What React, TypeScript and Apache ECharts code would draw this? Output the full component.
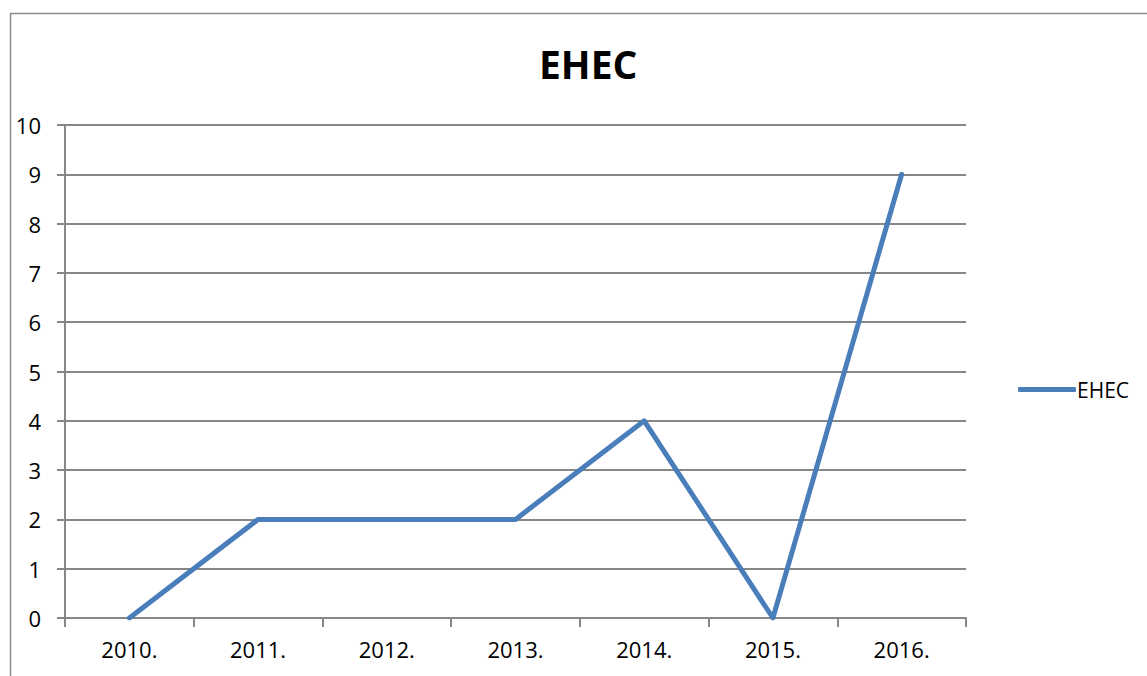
import React, { useEffect, useRef } from "react";
import * as echarts from "echarts";

const categories = ["2010.", "2011.", "2012.", "2013.", "2014.", "2015.", "2016."];
const seriesName = "EHEC";
const values = [0, 2, 2, 2, 4, 0, 9];
const titleText = "EHEC";

export default function App() {
  const ref = useRef<HTMLDivElement>(null);
  useEffect(() => {
    document.body.style.margin = "0";
    const chart = echarts.init(ref.current!, undefined, { renderer: "svg" });
    const font = "Open Sans";
    chart.setOption({
      animation: false,
      backgroundColor: "#ffffff",
      title: {
        text: titleText,
        left: 534,
        top: 39,
        textStyle: { fontSize: 39, fontWeight: "bold", color: "#000", fontFamily: font },
      },
      graphic: [
        {
          type: "rect",
          shape: { x: 10.5, y: 13.5, width: 1300, height: 800 },
          style: { fill: "none", stroke: "#8c8c8c", lineWidth: 1.5 },
          silent: true,
        },
      ],
      legend: {
        data: [seriesName],
        orient: "vertical",
        left: 1013,
        top: 374,
        itemWidth: 58,
        itemHeight: 5,
        itemGap: 4,
        icon: "roundRect",
        textStyle: { fontSize: 21, color: "#000", fontFamily: font, padding: [0, 0, 0, -4] },
      },
      grid: { left: 65, right: 181, top: 125, bottom: 58, containLabel: false },
      xAxis: {
        type: "category",
        data: categories,
        boundaryGap: true,
        axisLine: { lineStyle: { color: "#878787", width: 2 } },
        axisTick: { show: true, length: 9, inside: false, lineStyle: { color: "#878787", width: 2 } },
        axisLabel: { fontSize: 22, color: "#000", margin: 20, fontFamily: font },
      },
      yAxis: {
        type: "value",
        min: 0,
        max: 10,
        interval: 1,
        axisLine: { show: true, lineStyle: { color: "#878787", width: 2 } },
        axisTick: { show: true, length: 8, lineStyle: { color: "#878787", width: 2 } },
        axisLabel: { fontSize: 22, color: "#000", margin: 24, fontFamily: font },
        splitLine: { show: true, lineStyle: { color: "#878787", width: 2 } },
      },
      series: [
        {
          name: seriesName,
          type: "line",
          data: values,
          symbol: "none",
          lineStyle: { color: "#4a7ebb", width: 5, cap: "round", join: "round" },
          itemStyle: { color: "#4a7ebb" },
        },
      ],
    });
    return () => chart.dispose();
  }, []);
  return <div ref={ref} style={{ width: 1147, height: 676 }} />;
}
